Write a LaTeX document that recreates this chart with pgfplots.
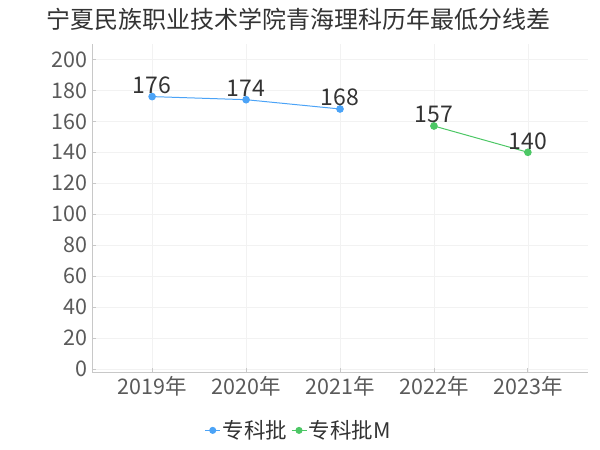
\documentclass[border=0pt]{standalone}
\usepackage{fontspec}
\setmainfont{Noto Sans CJK SC}
\usepackage{pgfplots}
\pgfplotsset{compat=1.18}
\definecolor{blueS}{HTML}{4BA3F7}
\definecolor{greenS}{HTML}{4CC765}
\definecolor{gridc}{HTML}{F2F2F2}
\definecolor{axisc}{HTML}{C8C8C8}
\definecolor{tickc}{HTML}{5A5A5A}
\definecolor{labc}{HTML}{333333}
\begin{document}
\begin{tikzpicture}
\useasboundingbox (0,0) rectangle (600bp,450bp);
\node[font=\fontsize{24bp}{28bp}\selectfont, text=labc] at (298bp,431bp) {宁夏民族职业技术学院青海理科历年最低分线差};
\begin{axis}[
  at={(92bp,78bp)}, anchor=south west,
  scale only axis,
  width=496bp, height=328bp,
  xmin=-0.64, xmax=4.64,
  ymin=-2, ymax=210,
  xtick={0,1,2,3,4},
  xticklabels={2019年,2020年,2021年,2022年,2023年},
  ytick={0,20,...,200},
  axis x line*=bottom, axis y line*=left,
  axis line style={axisc, line width=0.8pt, -},
  grid=major,
  major grid style={gridc, line width=0.6pt},
  tick style={axisc, line width=0.8pt},
  major tick length=4bp,
  x tick label style={font=\fontsize{21.5bp}{24bp}\selectfont, text=tickc, yshift=-1bp},
  y tick label style={font=\fontsize{21.5bp}{24bp}\selectfont, text=tickc, xshift=-1bp},
  /pgf/number format/assume math mode=true,
  nodes near coords,
  every node near coord/.append style={font=\fontsize{23bp}{24bp}\selectfont, text=labc, yshift=-1bp},
  legend columns=2,
  legend style={at={(0.417,-0.178)}, anchor=center, draw=none, fill=none,
    font=\fontsize{21.5bp}{23bp}\selectfont, text=labc,
    /tikz/every even column/.append style={column sep=2bp}},
  legend image code/.code={
    \draw[#1, line width=0.8pt] (0bp,0bp) -- (15bp,0bp);
    \fill[#1] (7.5bp,0bp) circle (3bp);
  },
]
\addplot[blueS, line width=1pt, mark=*, mark size=3.3bp, mark options={fill=blueS, draw=blueS}]
  coordinates {(0,176) (1,174) (2,168)};
\addlegendentry{专科批}
\addplot[greenS, line width=1pt, mark=*, mark size=3.3bp, mark options={fill=greenS, draw=greenS}]
  coordinates {(3,157) (4,140)};
\addlegendentry{专科批M}
\end{axis}
\end{tikzpicture}
\end{document}
